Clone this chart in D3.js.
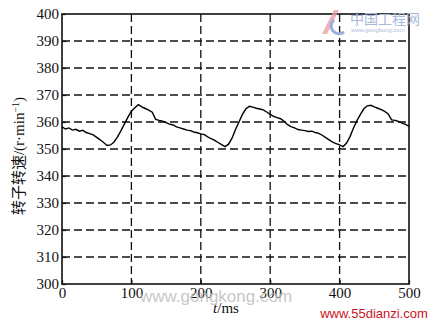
<!DOCTYPE html>
<html><head><meta charset="utf-8">
<script src="https://cdn.jsdelivr.net/npm/d3@7"></script>
<style>body{margin:0;background:#fff}svg{display:block}</style>
</head><body>
<script>
const timeMs = [0,5,10,15,20,25,30,35,40,45,50,55,60,65,70,75,80,85,90,95,100,105,110,115,120,125,130,135,140,145,150,155,160,165,170,175,180,185,190,195,200,205,210,215,220,225,230,235,240,245,250,255,260,265,270,275,280,285,290,295,300,305,310,315,320,325,330,335,340,345,350,355,360,365,370,375,380,385,390,395,400,405,410,415,420,425,430,435,440,445,450,455,460,465,470,475,480,485,490,495,500];
const speed = [358.2,357.4,357.8,357.0,357.3,356.6,356.9,356.1,355.7,355.2,354.3,353.4,352.4,351.3,351.5,352.6,354.5,356.8,359.3,361.8,364.0,365.3,366.4,365.6,365.0,364.4,363.6,361.0,360.6,360.3,359.8,359.2,358.9,358.2,357.8,357.4,357.0,356.8,356.3,356.0,355.6,355.3,354.5,353.8,353.2,352.4,351.6,350.9,351.8,354.0,357.2,360.0,362.8,364.9,365.8,365.5,365.1,364.8,364.5,363.7,362.8,362.1,361.6,361.2,360.3,359.0,358.3,357.8,357.2,357.0,356.8,356.5,356.6,356.1,355.8,355.1,354.2,353.4,352.5,352.0,351.5,350.9,352.2,354.6,357.8,360.5,362.8,364.9,366.0,366.2,365.6,365.1,364.6,363.9,363.0,360.8,360.6,360.2,359.6,359.1,358.4];
const xTicks = [0,100,200,300,400,500];
const yTicks = [300,310,320,330,340,350,360,370,380,390,400];

const W=434,H=320;
const L=62,R=409,T=14,B=284;
const svg=d3.select("body").append("svg").attr("width",W).attr("height",H);
const x=d3.scaleLinear().domain([0,500]).range([L,R]);
const y=d3.scaleLinear().domain([300,400]).range([B,T]);

// grid
svg.append("g").selectAll("line").data(yTicks.slice(1,-1)).join("line")
 .attr("x1",L).attr("x2",R).attr("y1",d=>y(d)).attr("y2",d=>y(d))
 .attr("stroke","#111").attr("stroke-width",1.3).attr("stroke-dasharray","8,4");
svg.append("g").selectAll("line").data(xTicks.slice(1,-1)).join("line")
 .attr("y1",T).attr("y2",B).attr("x1",d=>x(d)).attr("x2",d=>x(d))
 .attr("stroke","#111").attr("stroke-width",1.3).attr("stroke-dasharray","8,4");

// axes
const ax=svg.append("g").attr("transform",`translate(0,${B})`)
 .call(d3.axisBottom(x).tickValues(xTicks).tickSize(-4).tickPadding(6).tickSizeOuter(0));
const ay=svg.append("g").attr("transform",`translate(${L},0)`)
 .call(d3.axisLeft(y).tickValues(yTicks).tickSize(-4).tickPadding(3).tickSizeOuter(0));
[ax,ay].forEach(g=>{
 g.select(".domain").remove();
 g.selectAll("line").attr("stroke","#111").attr("stroke-width",1.2);
 g.selectAll("text").attr("font-family","Liberation Serif, serif").attr("font-size",15).attr("fill","#111");
});
ax.selectAll("text").attr("dy","0.55em");

// frame
svg.append("rect").attr("x",L).attr("y",T).attr("width",R-L).attr("height",B-T)
 .attr("fill","none").attr("stroke","#111").attr("stroke-width",1.6);

// line
svg.append("path").datum(timeMs.map((t,i)=>[t,speed[i]]))
 .attr("d",d3.line().x(d=>x(d[0])).y(d=>y(d[1])))
 .attr("fill","none").attr("stroke","#000").attr("stroke-width",1.4);

// labels
const xl=svg.append("text").attr("x",226).attr("y",313).attr("text-anchor","middle")
 .attr("font-family","Liberation Serif, serif").attr("font-size",15).attr("fill","#111");
xl.append("tspan").attr("font-style","italic").text("t");
xl.append("tspan").text("/ms");
const yl=svg.append("text").attr("transform","translate(24,156) rotate(-90)").attr("text-anchor","middle")
 .attr("font-size",15).attr("fill","#111");
yl.append("tspan").attr("font-family","Noto Sans CJK SC").text("转子转速");
yl.append("tspan").attr("font-family","Liberation Serif, serif").text("/(r·min");
yl.append("tspan").attr("font-family","Liberation Serif, serif").attr("font-size",10).attr("dy",-5).text("−1");
yl.append("tspan").attr("font-family","Liberation Serif, serif").attr("dy",5).text(")");

// watermarks
svg.append("text").attr("x",216).attr("y",302).attr("text-anchor","middle")
 .attr("font-family","Liberation Sans, sans-serif").attr("font-size",17).attr("fill","#bbb").attr("opacity",0.8).text("www.gongkong.com");
svg.append("text").attr("x",374).attr("y",318).attr("text-anchor","middle")
 .attr("font-family","Liberation Sans, sans-serif").attr("font-size",13).attr("fill","#c8141e").text("www.55dianzi.com");
svg.append("path").attr("d","M322,34 L334,10 L339,10 L327,34 Z").attr("fill","#e8a0a8").attr("opacity",0.8);
svg.append("path").attr("d","M334,20 a7,7 0 1,0 10,12").attr("fill","none").attr("stroke","#9ab0d8").attr("stroke-width",3);
svg.append("text").attr("x",350).attr("y",24).attr("font-family","Noto Sans CJK SC").attr("font-size",14)
 .attr("fill","#a8b8d8").text("中国工程网");
svg.append("text").attr("x",351).attr("y",32).attr("font-family","Liberation Sans, sans-serif").attr("font-size",6)
 .attr("fill","#b0bcd8").text("www.gongkong.com");
</script>
</body></html>
